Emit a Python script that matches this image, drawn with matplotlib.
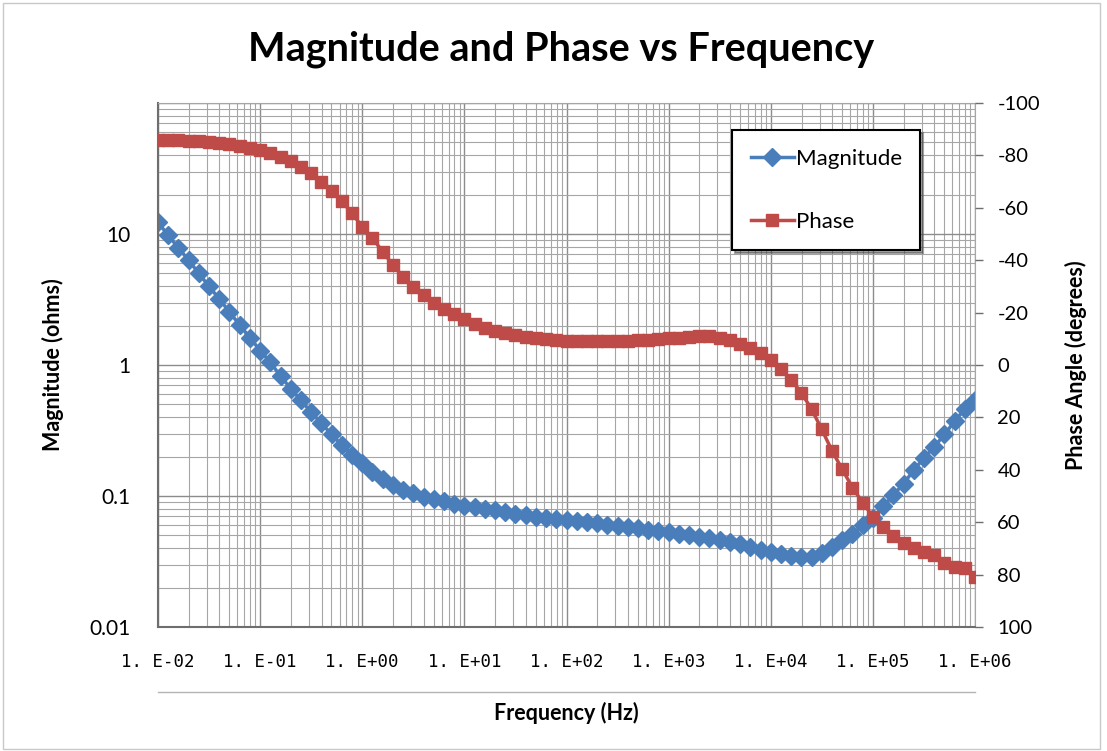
import numpy as np
import matplotlib
matplotlib.use('Agg')
import matplotlib.pyplot as plt
from matplotlib.ticker import FixedLocator, FuncFormatter, LogLocator, NullFormatter
from matplotlib.lines import Line2D
from matplotlib.patches import Rectangle

# frequency grid: 10 points per decade, 1e-2 .. 1e6 Hz
freq = np.logspace(-2, 6, 81)

# magnitude (ohms)
magnitude = [
    12.3, 9.77, 7.85, 6.31, 5.01, 3.98, 3.20, 2.54, 2.02, 1.62,
    1.29, 1.05, 0.822, 0.661, 0.537, 0.437, 0.359, 0.295, 0.245, 0.207,
    0.178, 0.153, 0.136, 0.122, 0.111, 0.105, 0.0989, 0.0944, 0.0912, 0.0871,
    0.0845, 0.0822, 0.0794, 0.0776, 0.0750, 0.0729, 0.0713, 0.0697, 0.0684, 0.0668,
    0.0656, 0.0643, 0.0631, 0.0618, 0.0605, 0.0594, 0.0581, 0.0568, 0.0555, 0.0542,
    0.0528, 0.0515, 0.0501, 0.0488, 0.0474, 0.0461, 0.0445, 0.0427, 0.0407, 0.0389,
    0.0372, 0.0359, 0.0349, 0.0345, 0.0341, 0.0367, 0.0407, 0.0462, 0.0513, 0.0596,
    0.0684, 0.0832, 0.102, 0.124, 0.158, 0.195, 0.237, 0.295, 0.372, 0.462,
    0.537,
]

# phase angle (degrees)
phase = [
    -86.0, -86.0, -85.9, -85.7, -85.5, -85.2, -84.8, -84.2, -83.6, -82.9,
    -82.1, -80.9, -79.5, -77.9, -75.7, -73.2, -70.0, -66.4, -62.6, -57.9,
    -52.8, -48.4, -43.3, -38.2, -33.7, -29.9, -26.7, -23.5, -21.4, -19.3,
    -17.6, -15.8, -14.2, -13.1, -12.2, -11.5, -10.8, -10.2, -9.8, -9.5,
    -9.3, -9.2, -9.1, -9.1, -9.1, -9.1, -9.2, -9.4, -9.6, -9.9,
    -10.2, -10.5, -10.8, -11.0, -11.0, -10.5, -9.5, -8.2, -6.5, -4.6,
    -1.9, 1.7, 5.7, 10.6, 16.9, 24.6, 32.8, 39.8, 46.8, 52.5,
    57.9, 61.9, 65.3, 68.1, 70.0, 71.3, 72.5, 75.7, 77.0, 77.3,
    81.1,
]

x_decades = [-2, -1, 0, 1, 2, 3, 4, 5, 6]
mag_ticks = [0.01, 0.1, 1, 10]
phase_ticks = list(range(-100, 101, 20))

blue = '#4a7ebb'
red = '#be4b48'
grid_c = '#a6a6a6'
axis_c = '#6e6e6e'

plt.rcParams['font.family'] = ['Lato', 'DejaVu Sans']

fig = plt.figure(figsize=(11.07, 7.51), dpi=100)
fig.patch.set_facecolor('white')
fig.add_artist(Rectangle((0.003, 0.003), 0.991, 0.993, transform=fig.transFigure,
                         fill=False, edgecolor='#c8c8c8', linewidth=1))

ax = fig.add_axes([0.1427, 0.1651, 0.7381, 0.6977])
ax2 = ax.twinx()

ax.set_xscale('log')
ax.set_yscale('log')
ax.set_xlim(1e-2, 1e6)
ax.set_ylim(0.01, 100)

# grid
ax.xaxis.set_major_locator(FixedLocator([10.0 ** d for d in x_decades]))
ax.xaxis.set_minor_locator(LogLocator(base=10, subs=np.arange(2, 10), numticks=100))
ax.xaxis.set_minor_formatter(NullFormatter())
ax.yaxis.set_major_locator(FixedLocator(mag_ticks + [100]))
ax.yaxis.set_minor_locator(LogLocator(base=10, subs=np.arange(2, 10), numticks=100))
ax.yaxis.set_minor_formatter(NullFormatter())
ax.grid(True, which='major', color='#8c8c8c', linewidth=1.0)
ax.grid(True, which='minor', color=grid_c, linewidth=0.8)
ax.set_axisbelow(True)

ax.xaxis.set_major_formatter(FuncFormatter(lambda v, p: '1. E{:+03d}'.format(int(round(np.log10(v))))))
ax.yaxis.set_major_formatter(FuncFormatter(lambda v, p: '' if v > 50 else ('{:g}'.format(v))))
ax.tick_params(axis='x', which='both', length=0, pad=19)
ax.tick_params(axis='y', which='both', length=0, pad=20, labelsize=15)
for lab in ax.get_xticklabels():
    lab.set_fontfamily('DejaVu Sans Mono')
    lab.set_fontsize(12.5)

for s in ['left', 'bottom']:
    ax.spines[s].set_color(axis_c)
    ax.spines[s].set_linewidth(1.5)
for s in ['top', 'right']:
    ax.spines[s].set_color(grid_c)
    ax.spines[s].set_linewidth(0.8)
for s in ax2.spines.values():
    s.set_visible(False)

l1, = ax.plot(freq, magnitude, color=blue, linewidth=2.5, marker='D',
              markersize=9, label='Magnitude')
ax2.set_ylim(100, -100)
ax2.yaxis.set_major_locator(FixedLocator(phase_ticks))
ax2.yaxis.set_major_formatter(FuncFormatter(lambda v, p: '{:d}'.format(int(v))))
ax2.tick_params(axis='y', length=6, width=1, color=axis_c, pad=10, labelsize=14.5)
l2, = ax2.plot(freq, phase, color=red, linewidth=2.5, marker='s',
               markersize=8, label='Phase')

ax.set_ylabel('Magnitude (ohms)', fontsize=15.5, fontweight='bold', labelpad=18)
ax2.set_ylabel('Phase Angle (degrees)', fontsize=15.5, fontweight='bold', labelpad=18)
ax.set_xlabel('Frequency (Hz)', fontsize=15.5, fontweight='bold', labelpad=22)
fig.suptitle('Magnitude and Phase vs Frequency', fontsize=28.5, fontweight='bold',
             x=0.507, y=0.935, va='center')

# line under tick labels
fig.add_artist(Line2D([0.1427, 0.8808], [0.0786, 0.0786], transform=fig.transFigure,
                      color='#b4b4b4', linewidth=1))

leg = ax2.legend([l1, l2], ['Magnitude', 'Phase'], loc='upper left',
                 bbox_to_anchor=(0.703, 0.948), frameon=True, fancybox=False,
                 shadow=True, edgecolor='black', fontsize=16, labelspacing=1.95,
                 borderpad=0.82, handlelength=1.95, handletextpad=0.08,
                 borderaxespad=0)
leg.get_frame().set_linewidth(1.5)

fig.savefig('out.png', dpi=100, facecolor='white')
